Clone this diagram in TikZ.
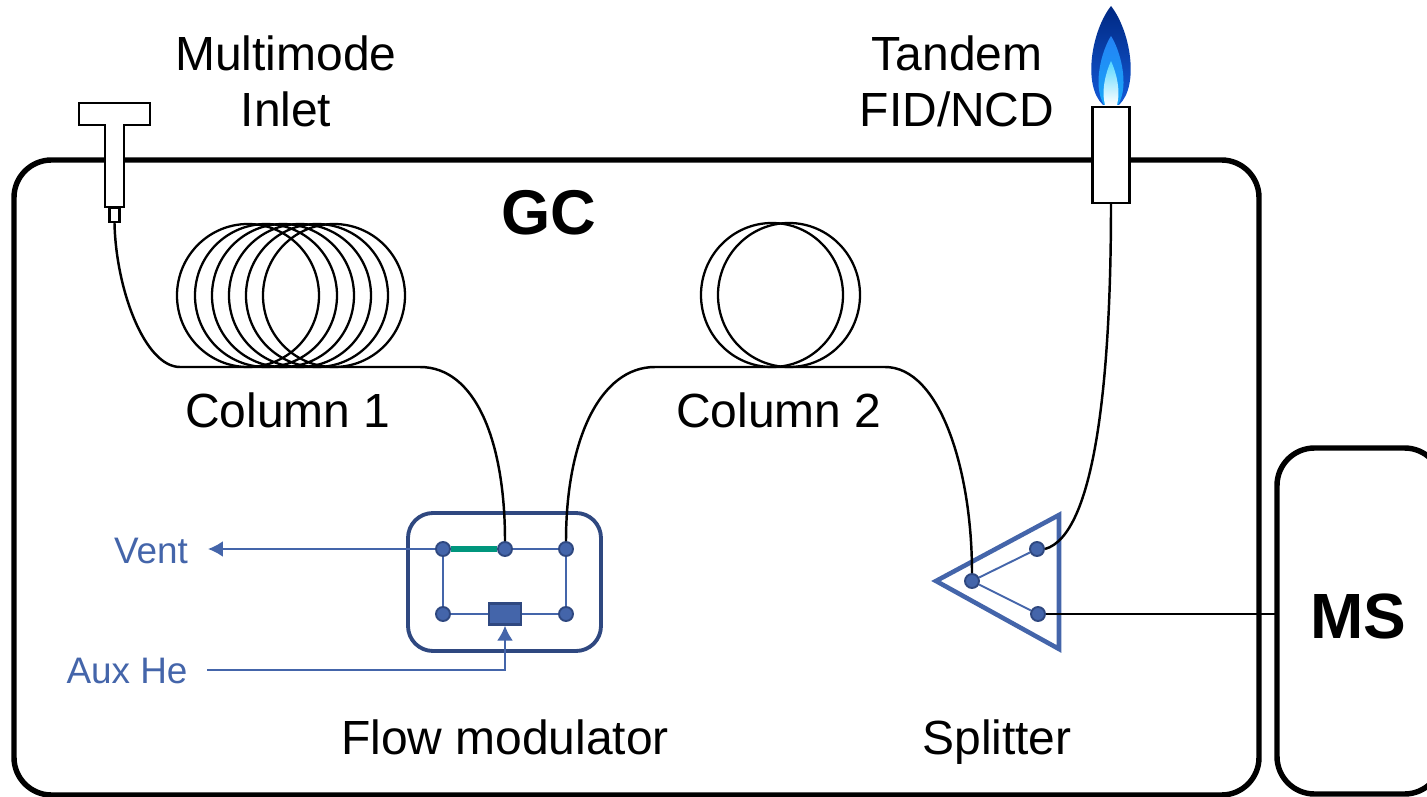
\documentclass[tikz,border=0pt]{standalone}
\usepackage{fontspec}
\setmainfont{Liberation Sans}
\usetikzlibrary{calc,arrows.meta}

\definecolor{portblue}{RGB}{68,101,170}
\definecolor{darkblue}{RGB}{47,72,128}
\definecolor{valvegreen}{RGB}{0,150,125}
\definecolor{flametop}{RGB}{0,40,130}
\definecolor{flamelow}{RGB}{20,90,215}
\definecolor{flamemid}{RGB}{35,130,245}
\definecolor{flamecyan}{RGB}{85,215,255}

\begin{document}
\begin{tikzpicture}[x=0.02cm, y=-0.02cm,
  every node/.style={font=\fontsize{27.3}{32}\selectfont, text=black},
  port/.style={circle, draw=darkblue, fill=portblue, line width=1.1pt, minimum size=0.28cm, inner sep=0pt},
  label/.style={align=center, inner sep=0pt},
  bluelabel/.style={inner sep=0pt, text=portblue, font=\fontsize{21}{25}\selectfont},
  wall/.style={draw=black, line width=3.1pt, rounded corners=0.75cm},
  coil/.style={draw=black, line width=1.3pt},
  fibre/.style={draw=black, line width=1.4pt},
  flow/.style={draw=portblue, line width=1.1pt},
  gasarrow/.style={flow, -{Latex[length=0.3cm, width=0.32cm]}},
  part/.style={draw=black, fill=white, line width=1.4pt}]

  \useasboundingbox (0,0) rectangle (1427,797);

  % Boxes
  \draw[wall] (14,160) rectangle (1259,795);
  \draw[wall] (1277,448) rectangle (1442,794);

  % Inlet
  \draw[part] (79,103) -- (150,103) -- (150,125) -- (124,125) -- (124,207)
    -- (105,207) -- (105,125) -- (79,125) -- cycle;
  \node[part, minimum width=0.2cm, minimum height=0.28cm, inner sep=0pt] (Tip) at (114.5,215) {};

  % Detector
  \node[part, minimum width=0.74cm, minimum height=1.92cm, inner sep=0pt] (Det) at (1111,155) {};

  % Flame
  \shade[top color=flametop, bottom color=flamelow]
    (1103,105) .. controls (1082,85) and (1092,30) .. (1111,6)
    .. controls (1130,30) and (1140,85) .. (1119,105) -- cycle;
  \shade[top color=flamemid, bottom color=flamemid!70!cyan]
    (1104,105) .. controls (1092,85) and (1102,50) .. (1111,36)
    .. controls (1120,50) and (1130,85) .. (1118,105) -- cycle;
  \shade[top color=flamecyan, bottom color=white]
    (1105,105) .. controls (1101,90) and (1106,72) .. (1111,61)
    .. controls (1116,72) and (1121,90) .. (1117,105) -- cycle;

  % Coils
  \foreach \cx in {248,266,283,300,317,334}
    \draw[coil] (\cx,295.5) ellipse [x radius=71, y radius=71.5];
  \foreach \cx in {772,789}
    \draw[coil] (\cx,295) ellipse [x radius=71, y radius=72];

  % Flow modulator
  \draw[draw=darkblue, line width=2.2pt, rounded corners=0.5cm] (408,513) rectangle (601,651);
  \node[port] (P1) at (443,549) {};
  \node[port] (P2) at (505,549) {};
  \node[port] (P3) at (566,549) {};
  \node[port] (P4) at (443,614) {};
  \node[port] (P5) at (566,614) {};
  \node[draw=darkblue, fill=portblue, line width=1.3pt, minimum width=0.64cm, minimum height=0.42cm, inner sep=0pt] (V) at (505,614) {};
  \draw[flow] (P2) -- (P3);
  \draw[flow] (P1) -- (P4);
  \draw[flow] (P3) -- (P5);
  \draw[flow] (P4) -- (V);
  \draw[flow] (V) -- (P5);
  \draw[draw=valvegreen, line width=3.6pt] (P1) -- (P2);

  % Splitter
  \coordinate (S1) at (936,581);
  \coordinate (S2) at (1059,515);
  \coordinate (S3) at (1059,649);
  \draw[draw=portblue, line width=2.6pt, miter limit=10] (S1) -- (S2) -- (S3) -- cycle;
  \node[port] (Q1) at (972,581) {};
  \node[port] (Q2) at (1037,549) {};
  \node[port] (Q3) at (1038,614) {};
  \draw[flow] (Q1) -- (Q2);
  \draw[flow] (Q1) -- (Q3);

  % Labels
  \node[label] (L1) at (286,81) {Multimode\\Inlet};
  \node[label] (L2) at (957,81) {Tandem\\FID/NCD};
  \node[label, font=\fontsize{36}{40}\selectfont\bfseries] (GC) at (549,213) {GC};
  \node[label, font=\fontsize{36.4}{40}\selectfont\bfseries] (MS) at (1358,616) {MS};
  \node[label] (C1) at (288,410) {Column 1};
  \node[label] (C2) at (779,410) {Column 2};
  \node[label, anchor=base] (FM) at (505,754) {Flow modulator};
  \node[label, anchor=base] (SP) at (997,754) {Splitter};
  \node[bluelabel] (Vent) at (151,551) {Vent};
  \node[bluelabel] (Aux) at (127,671) {Aux He};

  % Fibres
  \coordinate (J1) at (180,367);
  \coordinate (J2) at (420,367);
  \coordinate (J3) at (655,367);
  \coordinate (J4) at (885,367);
  \coordinate (T1) at (208,549);
  \coordinate (T2) at (207,670);
  \coordinate (T3) at (505,670);
  \draw[fibre] (Tip.south) .. controls (116,290) and (145,367) .. (J1) -- (J2)
    .. controls (475,367) and (505,440) .. (P2.north);
  \draw[fibre] (P3.north) .. controls (566,440) and (600,367) .. (J3) -- (J4)
    .. controls (940,367) and (972,470) .. (Q1.north);
  \draw[fibre] (Det.south) .. controls (1111,380) and (1095,535) .. (Q2.east);
  \draw[fibre] (Q3.east) -- (1278,614);

  % Gas lines
  \draw[gasarrow] (P1.west) -- (T1);
  \draw[gasarrow] (T2) -- (T3) -- (V.south);

\end{tikzpicture}
\end{document}
